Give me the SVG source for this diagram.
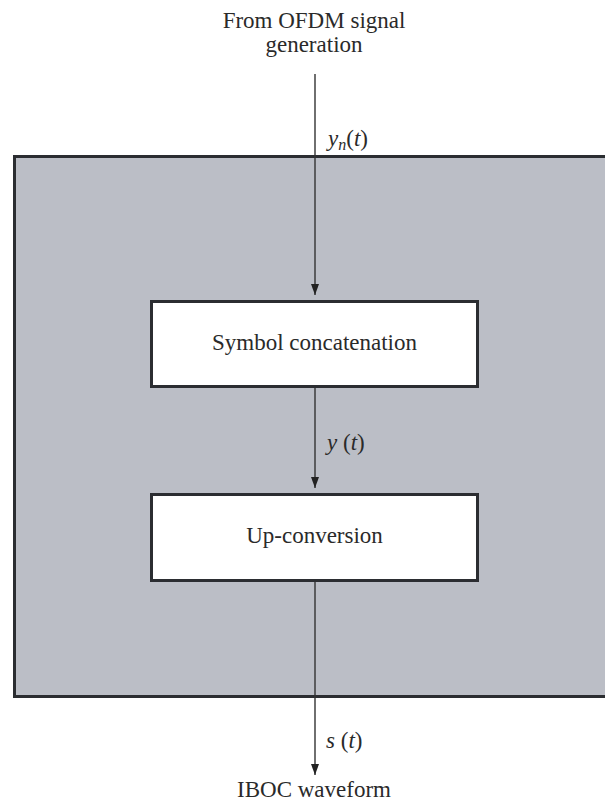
<svg xmlns="http://www.w3.org/2000/svg" width="605" height="809" viewBox="0 0 605 809">
<style>
  text { font-family: 'Liberation Serif', 'Times New Roman', serif; fill: #2a2a2a; }
  .lbl { font-size: 23px; text-anchor: middle; }
  .math { font-size: 23px; font-style: italic; }
  .box { fill: #ffffff; stroke: #2b2d31; stroke-width: 3; }
  .wire { stroke: #333; stroke-width: 1.4; fill: none; }
</style>
<defs>
  <marker id="arr" markerWidth="11" markerHeight="8" refX="11" refY="4" orient="auto" markerUnits="userSpaceOnUse">
    <path d="M0,0 L11,4 L0,8 Z" fill="#222"/>
  </marker>
</defs>
<g id="container">
  <rect x="14.5" y="156.5" width="600" height="540" fill="#bbbec6" stroke="#2b2d31" stroke-width="3"/>
</g>
<g id="connectors">
  <line class="wire" x1="315" y1="74" x2="315" y2="295" marker-end="url(#arr)"/>
  <line class="wire" x1="315" y1="387" x2="315" y2="488" marker-end="url(#arr)"/>
  <line class="wire" x1="315" y1="581" x2="315" y2="775" marker-end="url(#arr)"/>
  <text class="math" x="328" y="146">y<tspan font-size="16" dy="4">n</tspan><tspan font-style="normal" dy="-4">(</tspan>t<tspan font-style="normal">)</tspan></text>
  <text class="math" x="327" y="450">y <tspan font-style="normal">(</tspan>t<tspan font-style="normal">)</tspan></text>
  <text class="math" x="326" y="748">s <tspan font-style="normal">(</tspan>t<tspan font-style="normal">)</tspan></text>
</g>
<g id="source">
  <text class="lbl" x="314" y="28">From OFDM signal</text>
  <text class="lbl" x="314" y="52">generation</text>
</g>
<g id="symbol-concatenation">
  <rect class="box" x="151.5" y="301.5" width="326" height="85"/>
  <text class="lbl" x="314.5" y="350">Symbol concatenation</text>
</g>
<g id="up-conversion">
  <rect class="box" x="151.5" y="494.5" width="326" height="86"/>
  <text class="lbl" x="314.5" y="543">Up-conversion</text>
</g>
<g id="output">
  <text class="lbl" x="314" y="797">IBOC waveform</text>
</g>
</svg>
